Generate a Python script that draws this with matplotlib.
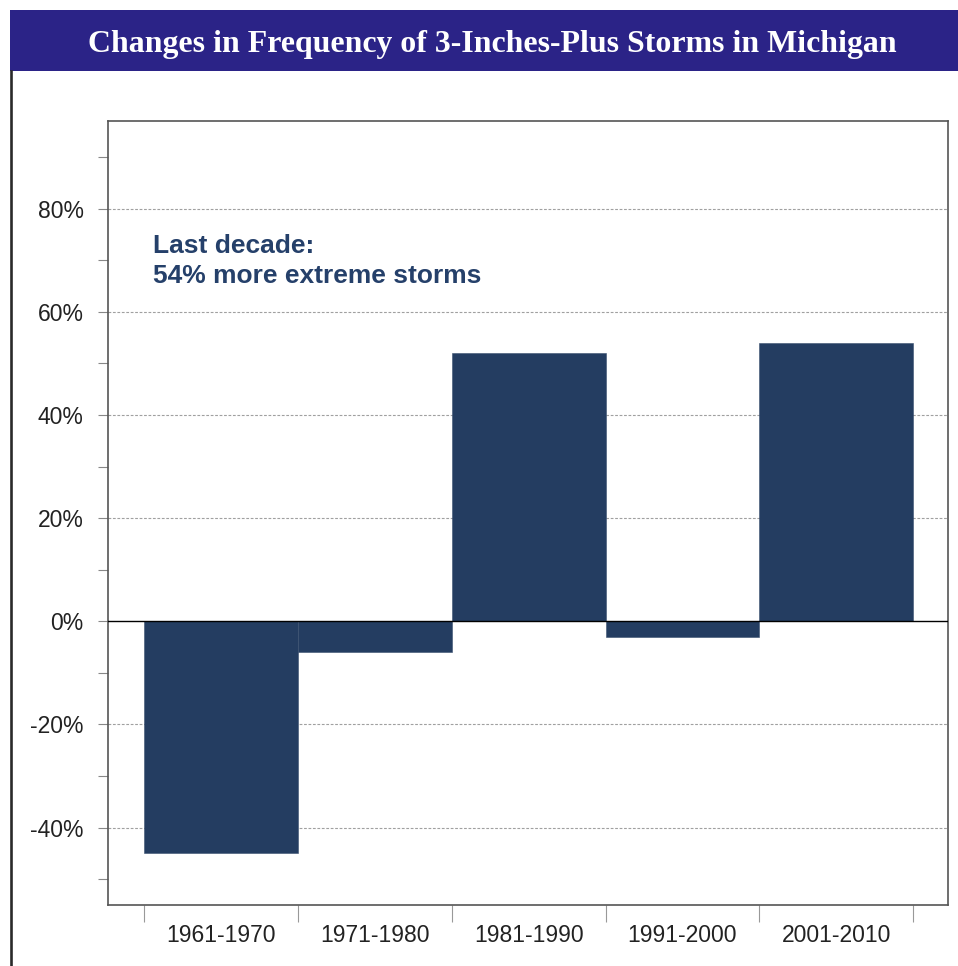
import matplotlib
matplotlib.use("Agg")
import matplotlib.pyplot as plt
from matplotlib.patches import Rectangle
from matplotlib.lines import Line2D
from matplotlib.ticker import MultipleLocator, FixedLocator, FuncFormatter

# ---- data ----
decades = ["1961-1970", "1971-1980", "1981-1990", "1991-2000", "2001-2010"]
change_pct = [-45, -6, 52, -3, 54]
title = "Changes in Frequency of 3-Inches-Plus Storms in Michigan"
note = "Last decade:\n54% more extreme storms"

BAR = "#243d61"
W, H = 958, 966
fig = plt.figure(figsize=(W / 100, H / 100), dpi=100)
fig.patch.set_facecolor("white")

# title bar
fig.patches.append(Rectangle((9.5 / W, 1 - 71 / H), 1 - 9.5 / W, 61 / H,
                             transform=fig.transFigure, facecolor="#2b2387",
                             edgecolor="none", zorder=0))
t = fig.text(492 / W, 1 - 52 / H, title, ha="center", va="baseline",
             family="Liberation Serif", weight="bold", color="white", fontsize=24)
# fit title width to ~810 px
fig.canvas.draw()
r = fig.canvas.get_renderer()
wpx = t.get_window_extent(r).width
t.set_fontsize(24 * 810 / wpx)

# left rule
fig.lines.append(Line2D([10.8 / W, 10.8 / W], [0, 1 - 71 / H], transform=fig.transFigure,
                        color="#2a2a2a", lw=1.9))

ax = fig.add_axes([108 / W, 1 - 905 / H, (948 - 108) / W, (905 - 121) / H])
x = list(range(len(decades)))
ax.bar(x, change_pct, width=1.0, color=BAR, edgecolor="#3a5070", linewidth=0.4, zorder=3)
ax.set_xlim(-0.734, 4.726)
ax.set_ylim(-55, 97)

ax.axhline(0, color="black", lw=1.0, zorder=4)
for v in [-40, -20, 20, 40, 60, 80]:
    ax.axhline(v, color="#a0a0a0", lw=0.8, ls=(0, (2.5, 1.5)), zorder=1)

ax.yaxis.set_major_locator(MultipleLocator(20))
ax.yaxis.set_minor_locator(MultipleLocator(10))
ax.yaxis.set_major_formatter(FuncFormatter(lambda v, p: f"{v:.0f}%"))
ax.tick_params(axis="y", which="both", length=7.5, width=0.8, color="#888888",
               labelsize=16.5, labelcolor="#222222", pad=10)

ax.xaxis.set_major_locator(FixedLocator([i - 0.5 for i in range(len(decades) + 1)]))
ax.xaxis.set_major_formatter(FuncFormatter(lambda v, p: ""))
ax.xaxis.set_minor_locator(FixedLocator(x))
ax.set_xticklabels(decades, minor=True)
ax.tick_params(axis="x", which="major", length=12.5, width=0.8, color="#999999")
ax.tick_params(axis="x", which="minor", length=0, labelsize=16.5,
               labelcolor="#222222", pad=14)

for s in ax.spines.values():
    s.set_color("#555555")
    s.set_linewidth(1.2)

# annotation, positioned in display pixels
ax.text(153, H - 283, note, transform=None, fontsize=19, weight="bold", color="#25406a",
        family="Liberation Sans", ha="left", va="baseline", linespacing=1.32)

for lab in ax.get_yticklabels() + ax.get_xticklabels(minor=True):
    lab.set_family("Liberation Sans")

fig.savefig("out.png", dpi=100)
